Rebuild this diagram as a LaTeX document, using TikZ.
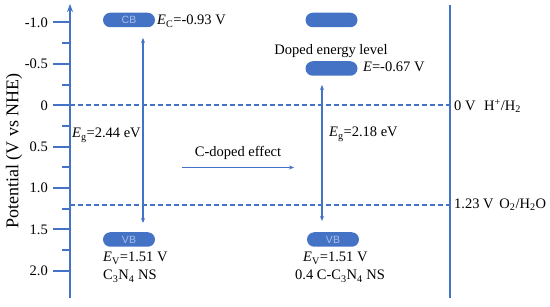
\documentclass[tikz,border=0pt]{standalone}
\usepackage{fontspec}
\setmainfont{Liberation Serif}
\newfontfamily\pillfont{Liberation Sans}
\usetikzlibrary{arrows.meta}
\definecolor{ablue}{HTML}{4472C4}
\definecolor{pilltxt}{HTML}{A9C1EA}
\begin{document}
\begin{tikzpicture}[x=1pt,y=-1pt,
  axisline/.style={ablue, line width=2pt},
  tickline/.style={ablue, line width=2pt},
  dashline/.style={ablue, line width=1.2pt, dash pattern=on 5pt off 3pt},
  gaparrow/.style={ablue, line width=1.2pt, {Stealth[length=5pt,width=4pt]}-{Stealth[length=5pt,width=4pt]}},
  effarrow/.style={ablue, line width=1.2pt, -{Stealth[length=5pt,width=4pt]}},
  pill/.style={fill=ablue, rounded corners=7.25pt, minimum width=52pt, minimum height=14.5pt, inner sep=0pt, text=pilltxt, font=\pillfont\fontsize{10.5}{10.5}\selectfont},
  lbl/.style={font=\fontsize{14.5}{16}\selectfont, inner sep=0pt, anchor=base west},
  ticklbl/.style={font=\fontsize{14.5}{16}\selectfont, inner sep=0pt, anchor=east},
]
\useasboundingbox (0,0) rectangle (550,307);
% axes
\coordinate (axbot) at (70,298);
\coordinate (axtop) at (70,4);
\coordinate (raxbot) at (450,298);
\coordinate (raxtop) at (450,5);
\draw[axisline,-{Stealth[length=8pt,width=6pt]}] (axbot) -- (axtop);
\draw[axisline] (raxbot) -- (raxtop);
% ticks
\foreach \v/\t/\n in {-1.0/-1.0/a,-0.5/-0.5/b,0/0/c,0.5/0.5/d,1.0/1.0/e,1.5/1.5/f,2.0/2.0/g}{
  \pgfmathsetmacro{\yy}{105.3+82.8*\v}
  \draw[tickline] (53,\yy) -- (70,\yy);
  \node[ticklbl] (tick\n) at (48,\yy) {\t};
}
\foreach \v in {-0.75,-0.25,0.25,0.75,1.25,1.75}{
  \pgfmathsetmacro{\yy}{105.3+82.8*\v}
  \draw[tickline] (62,\yy) -- (70,\yy);
}
\node[rotate=90, font=\fontsize{18}{20}\selectfont, inner sep=0pt] (ylab) at (14,151) {Potential (V vs NHE)};
% dashed reference lines
\coordinate (h0l) at (70,105);
\coordinate (h0r) at (450,105);
\coordinate (o2l) at (70,205);
\coordinate (o2r) at (450,205);
\draw[dashline] (h0l) -- (h0r);
\draw[dashline] (o2l) -- (o2r);
\node[lbl, anchor=west] (h0lbl) at (454,106) {0 V\hspace{0.6em}H\textsuperscript{+}/H\textsubscript{2}};
\node[lbl, anchor=west] (o2lbl) at (454,205) {1.23 V\hspace{0.4em}O\textsubscript{2}/H\textsubscript{2}O};
% left band structure
\node[pill] (cb1) at (129,20) {CB};
\node[pill] (vb1) at (129,239.5) {VB};
\node[lbl] (ec1) at (157,25) {\textit{E}\textsubscript{C}=-0.93 V};
\node[lbl] (ev1) at (103,262) {\textit{E}\textsubscript{V}=1.51 V};
\node[lbl] (nm1) at (103,280) {C\textsubscript{3}N\textsubscript{4} NS};
\coordinate (g1t) at (143,38);
\coordinate (g1b) at (143,223);
\draw[gaparrow] (g1t) -- (g1b);
\node[lbl] (eg1) at (72,138) {\textit{E}\textsubscript{g}=2.44 eV};
% right band structure
\node[pill] (cb2) at (331.5,20) {};
\node[lbl, anchor=base] (dop) at (331,55) {Doped energy level};
\node[pill] (dl2) at (331.5,68.5) {};
\node[lbl] (ed2) at (363,72) {\textit{E}=-0.67 V};
\node[pill] (vb2) at (333,239.5) {VB};
\node[lbl] (ev2) at (303,262) {\textit{E}\textsubscript{V}=1.51 V};
\node[lbl] (nm2) at (295,280) {0.4 C-C\textsubscript{3}N\textsubscript{4} NS};
\coordinate (g2t) at (322,85);
\coordinate (g2b) at (322,221);
\draw[gaparrow] (g2t) -- (g2b);
\node[lbl] (eg2) at (329,137) {\textit{E}\textsubscript{g}=2.18 eV};
% effect arrow
\node[lbl, anchor=base] (eff) at (238,157) {C-doped effect};
\coordinate (effl) at (182,167.5);
\coordinate (effr) at (294,167.5);
\draw[effarrow] (effl) -- (effr);
\end{tikzpicture}
\end{document}
